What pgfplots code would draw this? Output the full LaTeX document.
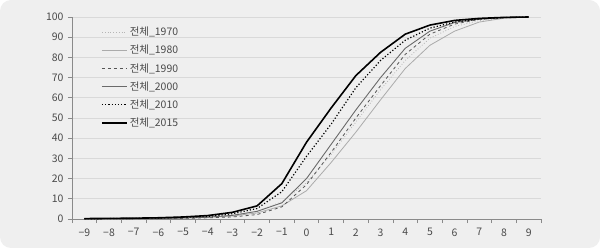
\documentclass[border=0pt]{standalone}
\usepackage{pgfplots}
\pgfplotsset{compat=1.18}
\usepackage{fontspec}
\newfontfamily\kr{Noto Sans CJK KR}
\definecolor{bg}{HTML}{EFEFEF}
\definecolor{gridc}{HTML}{D9D9D9}
\definecolor{axc}{HTML}{8A8A8A}
\definecolor{txt}{HTML}{4A4A4A}
\definecolor{lg}{HTML}{ABABAB}
\definecolor{lg2}{HTML}{B5B5B5}
\definecolor{dg}{HTML}{555555}
\definecolor{mg}{HTML}{6A6A6A}
\begin{document}
\begin{tikzpicture}
\fill[white] (0,0) rectangle (600bp,248bp);
\fill[bg, rounded corners=11bp] (0,0) rectangle (600bp,248bp);
\begin{axis}[
  at={(72bp,29bp)}, anchor=south west,
  width=469bp, height=202bp, scale only axis,
  xmin=-9.5, xmax=9.5, ymin=0, ymax=100,
  axis x line=bottom, axis y line=left,
  axis line style={axc, line width=0.8bp, -},
  xtick={-9,...,9},
  xticklabels={−9,−8,−7,−6,−5,−4,−3,−2,−1,0,1,2,3,4,5,6,7,8,9},
  minor xtick={-9.5,-8.5,...,9.5},
  ytick={0,10,...,100},
  yticklabels={0,10,20,30,40,50,60,70,80,90,100},
  major x tick style={draw=none},
  minor x tick style={axc, line width=0.8bp},
  minor tick length=4bp,
  major y tick style={axc, line width=0.8bp},
  major tick length=4bp,
  tick align=outside,
  ymajorgrids, grid style={gridc, line width=0.8bp},
  ticklabel style={font=\kr\fontsize{10.5}{12}\selectfont, text=txt},
  xticklabel style={yshift=-2bp},
  yticklabel style={xshift=-1bp},
  legend style={draw=none, fill=none, at={(29bp,194bp)}, anchor=north west,
    font=\kr\fontsize{10.5}{12}\selectfont, text=txt, row sep=4bp,
    nodes={inner sep=2bp}, inner sep=0pt},
  legend cell align=left,
  legend image code/.code={\draw[#1] (0bp,0bp) -- (25bp,0bp);},
  /tikz/every even column/.append style={xshift=6bp},
]
\addplot[lg2, line width=0.8bp, dotted] coordinates {
(-9,0.1) (-8,0.1) (-7,0.2) (-6,0.3) (-5,0.6) (-4,1.0) (-3,1.9) (-2,3.8) (-1,8.5) (0,18) (1,32) (2,48) (3,64) (4,78.5) (5,89.5) (6,95.3) (7,98.2) (8,99.5) (9,100)};
\addlegendentry{전체\_1970}
\addplot[lg, line width=0.8bp] coordinates {
(-9,0.1) (-8,0.1) (-7,0.2) (-6,0.3) (-5,0.5) (-4,0.8) (-3,1.5) (-2,3.0) (-1,6.5) (0,14) (1,28) (2,43) (3,59) (4,74.5) (5,86) (6,93) (7,97.5) (8,99.4) (9,100)};
\addlegendentry{전체\_1980}
\addplot[dg, line width=0.8bp, dashed] coordinates {
(-9,0.0) (-8,0.1) (-7,0.1) (-6,0.2) (-5,0.3) (-4,0.6) (-3,1.0) (-2,2.2) (-1,6.0) (0,17) (1,33) (2,50) (3,66) (4,81.5) (5,91.5) (6,96.5) (7,98.8) (8,99.7) (9,100)};
\addlegendentry{전체\_1990}
\addplot[mg, line width=0.9bp] coordinates {
(-9,0.1) (-8,0.1) (-7,0.2) (-6,0.3) (-5,0.5) (-4,0.9) (-3,1.8) (-2,3.8) (-1,8.0) (0,20) (1,37) (2,54) (3,70) (4,84.5) (5,93) (6,97.3) (7,99) (8,99.8) (9,100)};
\addlegendentry{전체\_2000}
\addplot[black, line width=1.2bp, dotted] coordinates {
(-9,0.1) (-8,0.2) (-7,0.3) (-6,0.5) (-5,0.8) (-4,1.3) (-3,2.6) (-2,5.2) (-1,13.5) (0,31) (1,47) (2,65) (3,78.5) (4,88.5) (5,94.5) (6,97.5) (7,99) (8,99.7) (9,100)};
\addlegendentry{전체\_2010}
\addplot[black, line width=1.6bp] coordinates {
(-9,0.2) (-8,0.3) (-7,0.4) (-6,0.6) (-5,1.0) (-4,1.7) (-3,3.3) (-2,6.5) (-1,17.5) (0,38) (1,55) (2,71) (3,82.5) (4,91.5) (5,96) (6,98.3) (7,99.3) (8,99.8) (9,100)};
\addlegendentry{전체\_2015}
\end{axis}
\end{tikzpicture}
\end{document}
